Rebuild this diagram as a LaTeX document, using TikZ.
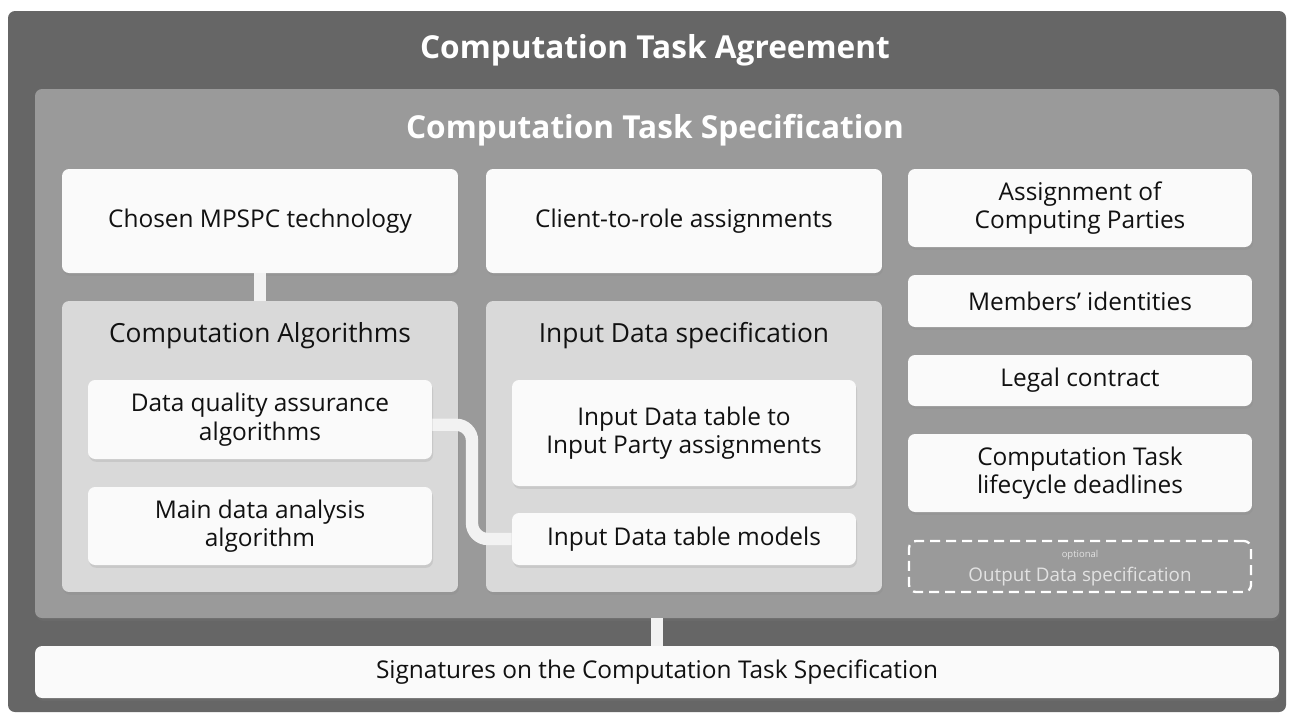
\documentclass[tikz,border=0pt]{standalone}
\usepackage{fontspec}
\setmainfont{Open Sans}
\usetikzlibrary{fit,calc,shadows}
\definecolor{outerc}{HTML}{666666}
\definecolor{specc}{HTML}{9A9A9A}
\definecolor{panelc}{HTML}{D9D9D9}
\definecolor{boxc}{HTML}{FAFAFA}
\definecolor{txtc}{HTML}{111111}
\definecolor{connc}{HTML}{F2F2F2}
\definecolor{optc}{HTML}{E2E2E2}
\begin{document}
\begin{tikzpicture}[x=0.02cm,y=-0.02cm,
  shad/.style={drop shadow={opacity=0.18, shadow xshift=0.6pt, shadow yshift=-1.6pt}},
  frame/.style={inner sep=0pt, rounded corners=4pt},
  panel/.style={frame, fill=panelc, shad},
  wbox/.style={frame, fill=boxc, shad, align=center, text=txtc,
    font=\fontsize{13.9}{16.2}\selectfont},
  ptitle/.style={text=txtc, font=\fontsize{15}{18}\selectfont},
  btitle/.style={text=white, font=\fontsize{18}{21}\selectfont\bfseries},
  conn/.style={draw=connc, line width=7pt}
]
\useasboundingbox (0,0) rectangle (1293,718);
\fill[white] (0,0) rectangle (1293,718);
% outer agreement
\node[frame, fill=outerc, fit={(8,11)(1286,712)}] (agr) {};
\node[btitle] (agrt) at (655,50) {Computation Task Agreement};
% specification
\node[frame, fill=specc, shad, fit={(35,89)(1279,618)}] (spec) {};
\node[btitle] (spect) at (655,130) {Computation Task Specification};
% signatures
\node[wbox, minimum width=24.88cm, minimum height=1.04cm] (sig) at (657,672) {Signatures on the Computation Task Specification};
% top row
\node[wbox, minimum width=7.92cm, minimum height=2.08cm] (mpc) at (260,221) {Chosen MPSPC technology};
\node[wbox, minimum width=7.92cm, minimum height=2.08cm] (c2r) at (684,221) {Client-to-role assignments};
% panels
\node[panel, minimum width=7.92cm, minimum height=5.82cm] (calg) at (260,446.5) {};
\node[ptitle] (calgt) at (260,336) {Computation Algorithms};
\node[panel, minimum width=7.92cm, minimum height=5.82cm] (inp) at (684,446.5) {};
\node[ptitle] (inpt) at (684,336) {Input Data specification};
% connectors under boxes
\draw[conn] (mpc.south) -- (calg.north);
\draw[conn] (spec.south) -- (sig.north);
% inner boxes
\node[wbox, minimum width=6.88cm, minimum height=1.58cm] (dq) at (260,419.5) {Data quality assurance\\algorithms};
\node[wbox, minimum width=6.88cm, minimum height=1.56cm] (mda) at (260,526) {Main data analysis\\algorithm};
\node[wbox, minimum width=6.88cm, minimum height=2.12cm] (itp) at (684,433) {Input Data table to\\Input Party assignments};
\node[wbox, minimum width=6.88cm, minimum height=1.04cm] (itm) at (684,539) {Input Data table models};
\draw[conn, rounded corners=9pt] ([yshift=-3pt]dq.east) -| ($(dq.east)!0.5!(itm.west)$) |- (itm.west);
% right column
\node[wbox, minimum width=6.88cm, minimum height=1.56cm] (acp) at (1080,208) {Assignment of\\Computing Parties};
\node[wbox, minimum width=6.88cm, minimum height=1.04cm] (mid) at (1080,301) {Members' identities};
\node[wbox, minimum width=6.88cm, minimum height=1.02cm] (leg) at (1080,380.5) {Legal contract};
\node[wbox, minimum width=6.88cm, minimum height=1.56cm] (dead) at (1080,473) {Computation Task\\lifecycle deadlines};
\node[frame, draw=white, line width=1.3pt, dash pattern=on 5.7pt off 3.4pt, minimum width=6.84cm, minimum height=1.02cm] (opt) at (1080,566.5) {};
\node[text=optc, font=\fontsize{5.4}{6}\selectfont, anchor=base] (optl) at (1080,557) {optional};
\node[text=optc, font=\fontsize{10.7}{12}\selectfont, anchor=base] (optt) at (1080,581) {Output Data specification};
\end{tikzpicture}
\end{document}
